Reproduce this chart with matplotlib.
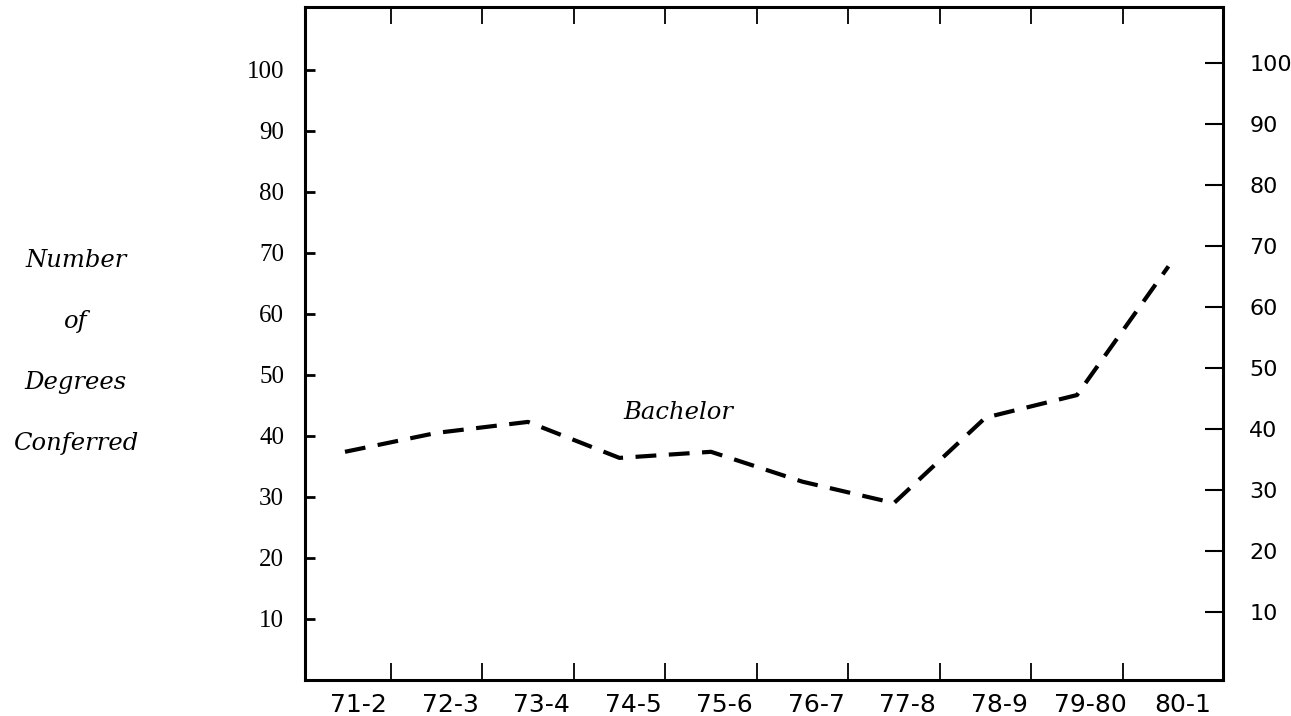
import numpy as np
import matplotlib
matplotlib.use("Agg")
import matplotlib.pyplot as plt
import matplotlib.transforms as mtransforms

# Data
years = ["71-2", "72-3", "73-4", "74-5", "75-6", "76-7", "77-8", "78-9", "79-80", "80-1"]
bachelor = [37.4, 40.5, 42.3, 36.4, 37.4, 32.5, 29.0, 43.0, 46.7, 67.8]
y_ticks = [10, 20, 30, 40, 50, 60, 70, 80, 90, 100]
ylabel_lines = ["Number", "of", "Degrees", "Conferred"]
series_name = "Bachelor"

x = np.arange(len(years))

fig = plt.figure(figsize=(12.91, 7.16), dpi=100)
ax = fig.add_axes([305 / 1291, 36 / 716, 918 / 1291, 673 / 716])

ax.plot(x, bachelor, color="black", lw=3, linestyle=(0, (5, 3)))

ax.set_xlim(-0.437, 9.596)
ax.set_ylim(0, 110.3)

# category labels sit a little right of the data points, ticks fall between them
ax.set_xticks(x + 0.15)
ax.set_xticklabels(years, fontsize=18, family="DejaVu Sans")
ax.tick_params(axis="x", which="major", length=0, pad=9)
ax.set_xticks(x[:-1] + 0.5, minor=True)
ax.tick_params(axis="x", which="minor", direction="in", length=12, width=1.3,
               top=True, bottom=True)

ax.set_yticks(y_ticks)
ax.set_yticklabels([str(v) for v in y_ticks], fontsize=18, family="Liberation Serif")
ax.tick_params(axis="y", direction="in", length=7, width=2, pad=15)

for s in ax.spines.values():
    s.set_linewidth(2.2)

# right-hand copy of the scale (slightly offset in the scan)
ax2 = ax.twinx()
ax2.set_ylim(-1.15, 109.2)
ax2.set_yticks(y_ticks)
ax2.set_yticklabels([str(v) for v in y_ticks], fontsize=16, family="DejaVu Sans")
ax2.tick_params(axis="y", direction="in", length=13, width=1.5, pad=19)

ax.text(3.64, 43.9, series_name, ha="center", va="center",
        fontsize=17.5, family="DejaVu Serif", style="italic")

trans = mtransforms.blended_transform_factory(fig.transFigure, ax.transData)
for i, line in enumerate(ylabel_lines):
    ax.text(76 / 1291, y_ticks[6 - i] - 1.3, line, transform=trans, ha="center",
            va="center", fontsize=17.5, family="DejaVu Serif", style="italic")

fig.savefig("out.png", dpi=100, facecolor="white")
